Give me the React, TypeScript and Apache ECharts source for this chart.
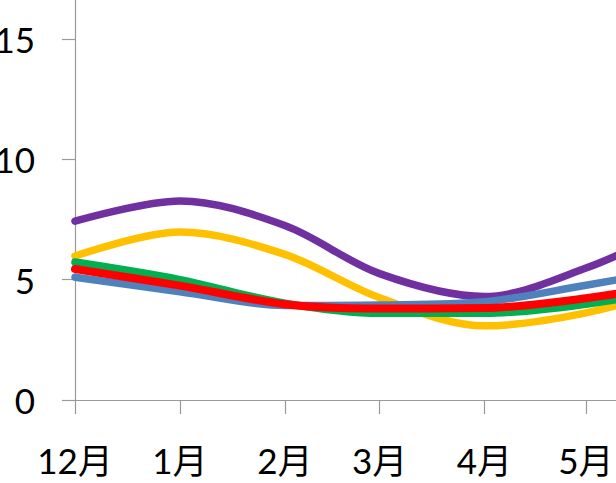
import { useEffect, useRef } from "react";
import * as echarts from "echarts";

// Month-start positions (days since 1 Dec) and their labels
const monthLabels = ["12月", "1月", "2月", "3月", "4月", "5月", "6月"];
const monthDays = [0, 31, 62, 90, 121, 151, 181];
const yTicks = [0, 5, 10, 15];

// Monthly values per series
const purpleValues = [7.43, 8.27, 7.25, 5.25, 4.3, 5.48, 7.4];
const yellowValues = [5.98, 6.98, 6.05, 4.25, 3.08, 3.62, 4.8];
const greenValues = [5.73, 5.0, 4.02, 3.6, 3.6, 3.98, 4.7];
const redValues = [5.44, 4.75, 3.98, 3.8, 3.82, 4.23, 4.9];
const blueValues = [5.1, 4.5, 3.93, 3.95, 4.08, 4.77, 5.5];

const FONT = "Lato, 'Noto Sans CJK SC', sans-serif";

const pairs = (vals: number[]) => monthDays.map((d, i) => [d, vals[i]]);

const line = (name: string, color: string, vals: number[], width = 7.5) => ({
  name,
  type: "line",
  data: pairs(vals),
  smooth: 0.33,
  showSymbol: false,
  symbol: "none",
  lineStyle: { color, width, cap: "round", join: "round" },
  itemStyle: { color },
});

export default function App() {
  const ref = useRef<HTMLDivElement>(null);

  useEffect(() => {
    if (!ref.current) return;
    const chart = echarts.init(ref.current, undefined, { renderer: "svg" });
    const labelByDay = (v: number) => {
      const i = monthDays.indexOf(v);
      return i >= 0 ? monthLabels[i] : "";
    };
    chart.setOption({
      animation: false,
      backgroundColor: "#ffffff",
      grid: {
        left: 175,
        right: 12.5,
        top: 38.6,
        bottom: 83,
        containLabel: false,
        outerBoundsMode: "none",
      },
      xAxis: {
        type: "value",
        min: 0,
        max: 181,
        axisLine: { show: true, lineStyle: { color: "#9a9a9a", width: 1.2 } },
        axisTick: {
          show: true,
          inside: false,
          length: 14,
          customValues: monthDays,
          lineStyle: { color: "#9a9a9a", width: 1.2 },
        },
        axisLabel: {
          customValues: monthDays.slice(0, 6),
          formatter: labelByDay,
          margin: 42,
          fontSize: 35,
          fontFamily: FONT,
          color: "#000000",
        },
        splitLine: { show: false },
      },
      yAxis: {
        type: "value",
        min: 0,
        max: 20,
        axisLine: { show: true, lineStyle: { color: "#9a9a9a", width: 1.2 } },
        axisTick: {
          show: true,
          inside: false,
          length: 13,
          customValues: yTicks,
          lineStyle: { color: "#9a9a9a", width: 1.2 },
        },
        axisLabel: {
          customValues: yTicks,
          margin: 40,
          fontSize: 35,
          fontFamily: FONT,
          color: "#000000",
        },
        splitLine: { show: false },
      },
      series: [
        line("黄", "#FFC000", yellowValues),
        line("紫", "#7030A0", purpleValues),
        line("緑", "#00B050", greenValues),
        line("青", "#4F81BD", blueValues),
        line("赤", "#FF0000", redValues, 8),
      ],
    });
    return () => chart.dispose();
  }, []);

  return (
    <div
      style={{
        position: "fixed",
        left: 0,
        top: 0,
        width: 616,
        height: 483,
        overflow: "hidden",
        background: "#ffffff",
      }}
    >
      <div
        ref={ref}
        style={{ position: "absolute", left: -100, top: -120, width: 800, height: 603 }}
      />
    </div>
  );
}
